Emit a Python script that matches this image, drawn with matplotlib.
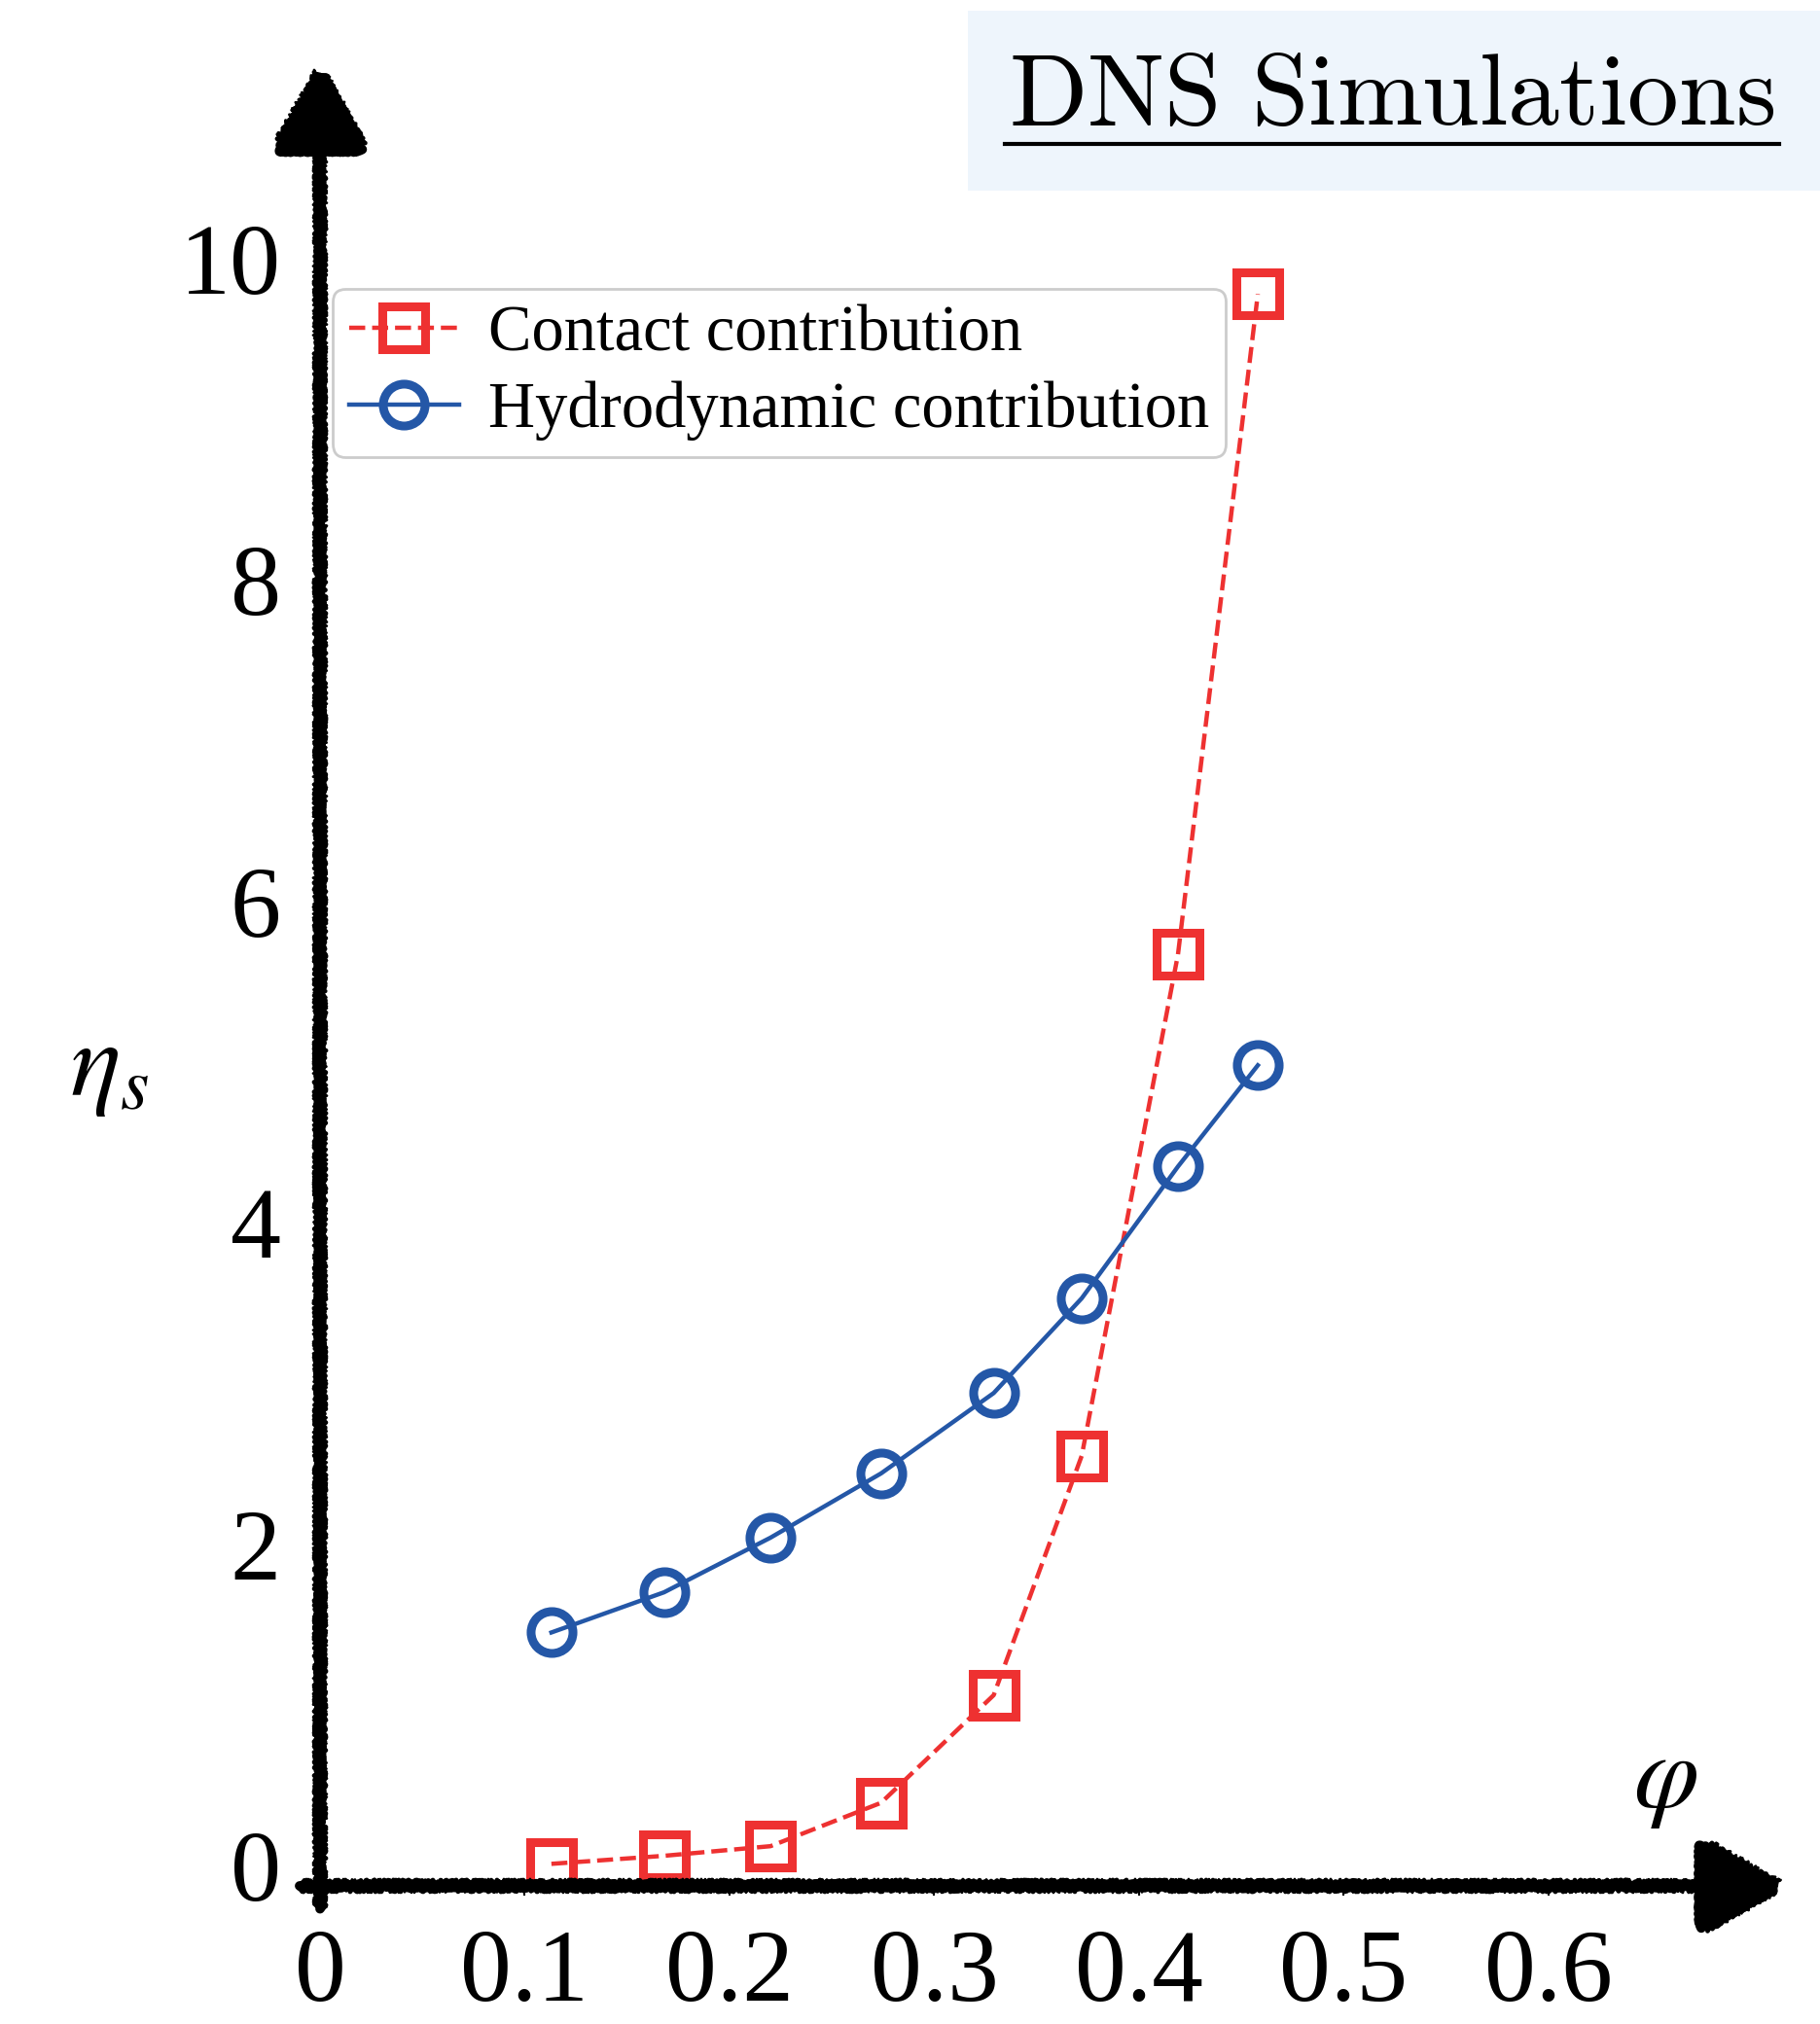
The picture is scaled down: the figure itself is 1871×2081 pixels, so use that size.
import matplotlib
matplotlib.use('Agg')
import matplotlib.pyplot as plt
from matplotlib.patches import Rectangle
from matplotlib.lines import Line2D

# volume fraction and the two viscosity contributions
phi = [0.113, 0.168, 0.220, 0.274, 0.329, 0.372, 0.419, 0.458]
eta_contact = [0.01, 0.06, 0.12, 0.39, 1.06, 2.55, 5.67, 9.78]
eta_hydro = [1.45, 1.70, 2.04, 2.44, 2.94, 3.53, 4.35, 4.98]

x_ticks = [0, 0.1, 0.2, 0.3, 0.4, 0.5, 0.6]
x_ticklabels = ['0', '0.1', '0.2', '0.3', '0.4', '0.5', '0.6']
y_ticks = [0, 2, 4, 6, 8, 10]
y_ticklabels = ['0', '2', '4', '6', '8', '10']

RED = '#ee3131'
BLUE = '#2457a7'

plt.rcParams['font.family'] = ['Liberation Serif', 'DejaVu Serif']
plt.rcParams['mathtext.fontset'] = 'stix'

fig = plt.figure(figsize=(18.71, 20.81), dpi=100)
ax = fig.add_axes([0.04083, 0.03864, 0.94506, 0.94469])
ax.set_xlim(-0.12, 0.72)
ax.set_ylim(-0.5, 11.4)

ax.plot(phi, eta_contact, ls='--', color=RED, lw=3.2, marker='s', ms=31,
        mfc='none', mec=RED, mew=6.5, label='Contact contribution', zorder=3)
ax.plot(phi, eta_hydro, ls='-', color=BLUE, lw=3.2, marker='o', ms=31,
        mfc='none', mec=BLUE, mew=6.5, label='Hydrodynamic contribution', zorder=3)

# axes are drawn by hand below, so hide the frame
axis_y0 = -0.127
for side in ['top', 'right', 'left', 'bottom']:
    ax.spines[side].set_visible(False)
ax.spines['bottom'].set_position(('data', axis_y0))
ax.spines['left'].set_position(('data', 0))

ax.set_xticks(x_ticks, x_ticklabels)
ax.set_yticks(y_ticks, y_ticklabels)
ax.tick_params(axis='x', direction='out', length=7, width=1.5, pad=25, labelsize=76)
ax.tick_params(axis='y', length=0, pad=29, labelsize=75)


def chalk_arrow(start, end):
    # a few overlapping rough strokes give a chalky look
    strokes = [(7, (2, 6, 3)), (3.5, (6, 3, 6)), (2.5, (5, 2, 8)), (2, (7, 1.5, 10))]
    for lw, sketch in strokes:
        ann = ax.annotate('', xy=end, xytext=start, xycoords='data', textcoords='data',
                          annotation_clip=False, zorder=5,
                          arrowprops=dict(arrowstyle='-|>,head_length=5.2,head_width=3.0',
                                          lw=lw, color='black', shrinkA=0, shrinkB=0,
                                          mutation_scale=10))
        ann.arrow_patch.set_sketch_params(*sketch)
        ann.arrow_patch.set_clip_on(False)


chalk_arrow((-0.01, axis_y0), (0.713, axis_y0))
chalk_arrow((0, -0.27), (0, 11.17))

fig.text(113 / 1871, 1 - 1101 / 2081, r'$\eta_s$', ha='center', va='center', fontsize=78)
fig.text(1712 / 1871, 1 - 1833 / 2081, r'$\varphi$', ha='center', va='center', fontsize=78)

leg = ax.legend(loc='upper left', bbox_to_anchor=(342 / 1871, 1 - 297 / 2081),
                bbox_transform=fig.transFigure, fontsize=48, handlelength=1.7,
                handletextpad=0.45, borderpad=0.25, labelspacing=0.25,
                borderaxespad=0, fancybox=True, edgecolor='#cccccc', framealpha=1)
leg.get_frame().set_linewidth(2)

# title banner
fig.add_artist(Rectangle((995 / 1871, 1 - 196 / 2081), (1871 - 995) / 1871, 185 / 2081,
                         transform=fig.transFigure, facecolor='#eef5fc', edgecolor='none'))
fig.text(1431 / 1871, 1 - 103 / 2081, r'$\mathrm{DNS\ Simulations}$', math_fontfamily='cm',
         fontsize=76, ha='center', va='center')
fig.add_artist(Line2D([1033 / 1871, 1829 / 1871], [1 - 148 / 2081] * 2,
                      transform=fig.transFigure, color='black', lw=3))

fig.savefig('out.png', dpi=100)
